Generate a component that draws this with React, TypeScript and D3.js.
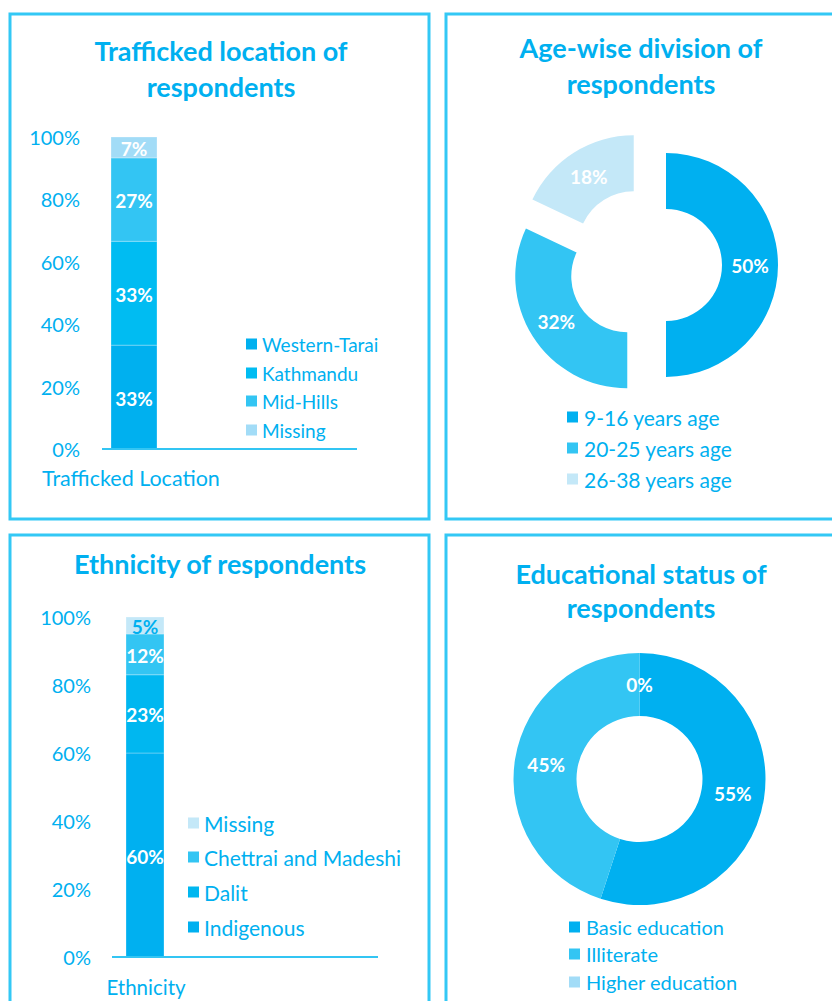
import React from "react";
import * as d3 from "d3";

const locCategory = "Trafficked Location";
const locSeries = ["Western-Tarai", "Kathmandu", "Mid-Hills", "Missing"];
const locValues = [0.333, 0.333, 0.267, 0.067];
const locColors = ["#00b0ef", "#00bcf2", "#33c5f3", "#a2dcf7"];

const ethCategory = "Ethnicity";
const ethSeries = ["Indigenous", "Dalit", "Chettrai and Madeshi", "Missing"];
const ethValues = [0.6, 0.23, 0.12, 0.05];
const ethColors = ["#00b0f0", "#00b7f0", "#33c5f3", "#c4e8f8"];

const ageSeries = ["9-16 years age", "20-25 years age", "26-38 years age"];
const ageValues = [0.5, 0.32, 0.18];
const ageColors = ["#00b0f0", "#33c5f3", "#c4e8f8"];

const eduSeries = ["Basic education", "Illiterate", "Higher education"];
const eduValues = [0.55, 0.45, 0.0];
const eduColors = ["#00b0f0", "#33c5f3", "#a2dcf7"];

const yTicks = [0, 0.2, 0.4, 0.6, 0.8, 1.0];

const FONT = "Lato, 'Open Sans', sans-serif";
const TXT = "#00b0f0";
const BORDER = "#33c8f5";
const pct = d3.format(".0%");

function StackedBar({ category, series, values, colors, y0, y1, xL, xR, axisL, axisR, tickX, catX, catY, catSize, labelDark, legendItems, legendSize }) {
  const y = d3.scaleLinear().domain([0, 1]).range([y0, y1]);
  const x = d3.scaleBand().domain([category]).range([xL, xR]).padding(0);
  const row: any = { cat: category };
  series.forEach((s, i) => (row[s] = values[i]));
  const stacked = d3.stack().keys(series)([row]);
  return (
    <g>
      {yTicks.map((t) => (
        <text key={t} x={tickX} y={y(t)} textAnchor="end" dominantBaseline="central" fontSize={20} fill={TXT} fontFamily={FONT}>
          {pct(t)}
        </text>
      ))}
      {stacked.map((layer, i) => {
        const d = layer[0];
        return (
          <g key={series[i]}>
            <rect x={x(category)} y={y(d[1])} width={x.bandwidth()} height={y(d[0]) - y(d[1])} fill={colors[i]} stroke="#ffffff" strokeOpacity={0.35} strokeWidth={0.8} />
            <text x={x(category)! + x.bandwidth() / 2} y={(y(d[0]) + y(d[1])) / 2 + 1} textAnchor="middle" dominantBaseline="central" fontSize={19} fontWeight="bold" fill={labelDark.includes(i) ? TXT : "#ffffff"} fontFamily={FONT}>
              {pct(Math.round(values[i] * 100) / 100)}
            </text>
          </g>
        );
      })}
      <line x1={axisL} x2={axisR} y1={y0} y2={y0} stroke="#33c5f3" strokeWidth={2} />
      <text x={catX} y={catY} textAnchor="middle" dominantBaseline="central" fontSize={catSize} fill={TXT} fontFamily={FONT}>
        {category}
      </text>
      {legendItems.map((it) => (
        <g key={it.name}>
          <rect x={it.x} y={it.y - 5.5} width={11} height={11} fill={it.color} />
          <text x={it.x + 16} y={it.y} dominantBaseline="central" fontSize={legendSize} fill={TXT} fontFamily={FONT}>
            {it.name}
          </text>
        </g>
      ))}
    </g>
  );
}

function Donut({ values, colors, cx, cy, R, r, explode, labelColor }) {
  const pie = d3.pie<number>().sort(null).value((d) => d);
  const arcs = pie(values);
  const arc = d3.arc<any>().innerRadius(r).outerRadius(R);
  return (
    <g transform={`translate(${cx},${cy})`}>
      {arcs.map((a, i) => {
        const mid = (a.startAngle + a.endAngle) / 2;
        const dx = Math.sin(mid) * explode;
        const dy = -Math.cos(mid) * explode;
        const [lx, ly] = arc.centroid(a);
        return (
          <g key={i} transform={`translate(${dx},${dy})`}>
            <path d={arc(a) || ""} fill={colors[i]} />
            <text x={lx} y={ly} textAnchor="middle" dominantBaseline="central" fontSize={19} fontWeight="bold" fill={labelColor} fontFamily={FONT}>
              {pct(values[i])}
            </text>
          </g>
        );
      })}
    </g>
  );
}

function Legend({ names, colors, x, ys, size }) {
  return (
    <g>
      {names.map((n, i) => (
        <g key={n}>
          <rect x={x} y={ys[i] - 5.5} width={11} height={11} fill={colors[i]} />
          <text x={x + 17} y={ys[i]} dominantBaseline="central" fontSize={size} fill={TXT} fontFamily={FONT}>
            {n}
          </text>
        </g>
      ))}
    </g>
  );
}

function Title({ lines, x, ys }) {
  return (
    <g>
      {lines.map((l, i) => (
        <text key={i} x={x} y={ys[i]} textAnchor="middle" dominantBaseline="central" fontSize={27} fontWeight="bold" fill={TXT} fontFamily={FONT}>
          {l}
        </text>
      ))}
    </g>
  );
}

export default function App() {
  const locLegendYs = [344, 373, 401, 430];
  const ethLegendOrder = [3, 2, 1, 0];
  const ethLegendYs = [823, 857, 892, 927];
  return (
    <svg width={832} height={1001} style={{ position: "absolute", left: 0, top: 0, background: "#ffffff" }}>
      <rect x={10} y={14} width={419} height={505} fill="none" stroke={BORDER} strokeWidth={3} />
      <rect x={446} y={14} width={400} height={505} fill="none" stroke={BORDER} strokeWidth={3} />
      <rect x={10} y={535} width={419} height={500} fill="none" stroke={BORDER} strokeWidth={3} />
      <rect x={446} y={535} width={400} height={500} fill="none" stroke={BORDER} strokeWidth={3} />

      <Title lines={["Trafficked location of", "respondents"]} x={221} ys={[50, 86]} />
      <StackedBar
        category={locCategory}
        series={locSeries}
        values={locValues}
        colors={locColors}
        y0={449}
        y1={137}
        xL={111}
        xR={157}
        axisL={102}
        axisR={357}
        tickX={80}
        catX={131}
        catY={478}
        catSize={21.5}
        labelDark={[]}
        legendSize={19}
        legendItems={locSeries.map((s, i) => ({ name: s, color: locColors[i], x: 246, y: locLegendYs[i] }))}
      />

      <Title lines={["Age-wise division of", "respondents"]} x={641} ys={[47, 83]} />
      <Donut values={ageValues} colors={ageColors} cx={645} cy={265} R={112} r={56} explode={21} labelColor="#ffffff" />
      <Legend names={ageSeries} colors={ageColors} x={567} ys={[417, 448, 479]} size={21} />

      <Title lines={["Ethnicity of respondents"]} x={220} ys={[563]} />
      <StackedBar
        category={ethCategory}
        series={ethSeries}
        values={ethValues}
        colors={ethColors}
        y0={957}
        y1={617}
        xL={126}
        xR={164}
        axisL={112}
        axisR={378}
        tickX={91}
        catX={146}
        catY={987}
        catSize={20.5}
        labelDark={[3]}
        legendSize={21}
        legendItems={ethLegendOrder.map((k, j) => ({ name: ethSeries[k], color: ethColors[k], x: 188, y: ethLegendYs[j] }))}
      />

      <Title lines={["Educational status of", "respondents"]} x={641} ys={[573, 607]} />
      <Donut values={eduValues} colors={eduColors} cx={639.5} cy={779} R={126} r={63} explode={0} labelColor="#ffffff" />
      <Legend names={eduSeries} colors={eduColors} x={569} ys={[927, 954, 982]} size={20} />
    </svg>
  );
}
